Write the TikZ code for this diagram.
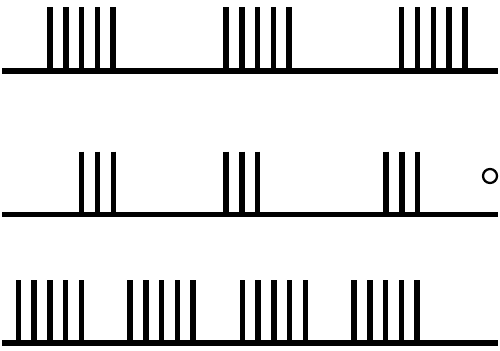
\documentclass[tikz,border=0pt]{standalone}
\usepackage{tikz}

\begin{document}
\begin{tikzpicture}[x={(0.02cm,0)}, y={(0,-0.02cm)}, base/.style={line width=0.11cm}, spike/.style={line width=0.11cm}, probe/.style={draw, line width=0.045cm}]
\useasboundingbox (0,0) rectangle (500,351);
% row 1: bursts of five
\draw[base] (2,71) -- (498,71);
\foreach \s in {50,226,401.7} \foreach \k in {0,...,4} \draw[spike] (\s+15.8*\k,7.3) -- (\s+15.8*\k,71);
% row 2: bursts of three
\draw[base] (2,214.5) -- (498,214.5);
\foreach \s in {81.7,226,386} \foreach \k in {0,1,2} \draw[spike] (\s+15.8*\k,151.7) -- (\s+15.8*\k,214.5);
\draw[probe] (490,176) circle (7);
% row 3: four bursts of five
\draw[base] (2,343) -- (498,343);
\foreach \s in {18.3,130,242.3,354} \foreach \k in {0,...,4} \draw[spike] (\s+15.8*\k,280) -- (\s+15.8*\k,343);
\end{tikzpicture}
\end{document}
